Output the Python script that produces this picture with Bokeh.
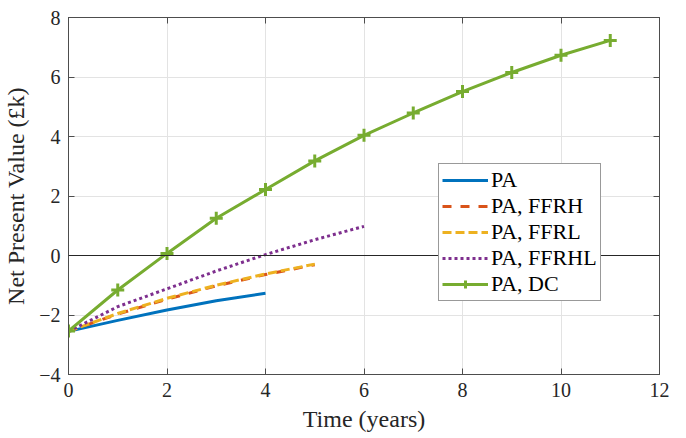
from bokeh.plotting import figure
from bokeh.models import Range1d, LinearAxis, Span, Legend, LegendItem, FixedTicker
from bokeh.embed import file_html
from bokeh.resources import INLINE

# Data
t_pa = [0, 1, 2, 3, 4]
npv_pa = [-2.55, -2.18, -1.83, -1.52, -1.27]
t_ffrh = [0, 1, 2, 3, 4, 5]
npv_ffrh = [-2.55, -1.97, -1.47, -1.02, -0.64, -0.31]
t_ffrl = [0, 1, 2, 3, 4, 5]
npv_ffrl = [-2.55, -1.95, -1.44, -1.0, -0.62, -0.29]
t_ffrhl = [0, 1, 2, 3, 4, 5, 6]
npv_ffrhl = [-2.55, -1.72, -1.12, -0.52, 0.03, 0.53, 0.98]
t_dc = [0, 1, 2, 3, 4, 5, 6, 7, 8, 9, 10, 11]
npv_dc = [-2.54, -1.16, 0.07, 1.25, 2.22, 3.18, 4.04, 4.79, 5.51, 6.15, 6.73, 7.23]
x_ticks = [0, 2, 4, 6, 8, 10, 12]
y_ticks = [-4, -2, 0, 2, 4, 6, 8]

FONT = "Times New Roman"

p = figure(width=670, height=434, output_backend="svg", toolbar_location=None,
           x_range=Range1d(0, 12), y_range=Range1d(-4, 8),
           min_border_left=0, min_border_right=11, min_border_top=17, min_border_bottom=0)
p.outline_line_color = "#4d4d4d"
p.outline_line_width = 1

for ax in (p.xaxis[0], p.yaxis[0]):
    ax.major_label_text_font = FONT
    ax.major_label_text_font_size = "20px"
    ax.major_label_text_color = "#262626"
    ax.axis_label_text_font = FONT
    ax.axis_label_text_font_size = "24px"
    ax.axis_label_text_font_style = "normal"
    ax.axis_label_text_color = "#262626"
    ax.axis_line_color = "#4d4d4d"
    ax.major_tick_line_color = "#4d4d4d"
    ax.major_tick_in = 6
    ax.major_tick_out = 0
    ax.minor_tick_line_color = None
p.xaxis[0].ticker = FixedTicker(ticks=x_ticks)
p.yaxis[0].ticker = FixedTicker(ticks=y_ticks)
p.xaxis[0].axis_label = "Time (years)"
p.yaxis[0].axis_label = "Net Present Value (£k)"
p.xaxis[0].major_label_standoff = 8
p.yaxis[0].major_label_standoff = 8
p.xaxis[0].axis_label_standoff = 6
p.yaxis[0].axis_label_standoff = 7

# box axes
ra = LinearAxis(ticker=FixedTicker(ticks=y_ticks), major_label_text_font_size="0px",
                major_tick_in=6, major_tick_out=0, minor_tick_line_color=None,
                axis_line_color="#4d4d4d", major_tick_line_color="#4d4d4d")
ta = LinearAxis(ticker=FixedTicker(ticks=x_ticks), major_label_text_font_size="0px",
                major_tick_in=6, major_tick_out=0, minor_tick_line_color=None,
                axis_line_color="#4d4d4d", major_tick_line_color="#4d4d4d")
ra.major_label_standoff = 0
ta.major_label_standoff = 0
p.add_layout(ra, "right")
p.add_layout(ta, "above")

p.xgrid.ticker = FixedTicker(ticks=x_ticks)
p.ygrid.ticker = FixedTicker(ticks=y_ticks)
p.grid.grid_line_color = "#e3e3e3"
p.grid.grid_line_width = 1

p.add_layout(Span(location=0, dimension="width", line_color="#262626", line_width=1))

r_pa = p.line(t_pa, npv_pa, line_color="#0072BD", line_width=3)
r_ffrh = p.line(t_ffrh, npv_ffrh, line_color="#D95319", line_width=3, line_dash="9 9")
r_ffrl = p.line(t_ffrl, npv_ffrl, line_color="#EDB120", line_width=3, line_dash="9 4")
r_ffrhl = p.line(t_ffrhl, npv_ffrhl, line_color="#7E2F8E", line_width=3, line_dash="3 3")
r_dc = p.line(t_dc, npv_dc, line_color="#77AC30", line_width=3)
r_dcm = p.scatter(t_dc, npv_dc, marker="cross", size=13, line_color="#77AC30", line_width=3)

legend = Legend(items=[
    LegendItem(label="PA", renderers=[r_pa]),
    LegendItem(label="PA, FFRH", renderers=[r_ffrh]),
    LegendItem(label="PA, FFRL", renderers=[r_ffrl]),
    LegendItem(label="PA, FFRHL", renderers=[r_ffrhl]),
    LegendItem(label="PA, DC", renderers=[r_dc, r_dcm]),
], location=(370, 73))
legend.label_text_font = FONT
legend.label_text_font_size = "22px"
legend.label_text_color = "#000000"
legend.label_height = 20
legend.label_standoff = 3
legend.glyph_width = 46
legend.glyph_height = 20
legend.spacing = 0
legend.padding = 3
legend.margin = 0
legend.border_line_color = "#333333"
legend.border_line_width = 1
legend.background_fill_alpha = 1
p.add_layout(legend, "center")

open("out.html", "w").write(file_html(p, INLINE))
